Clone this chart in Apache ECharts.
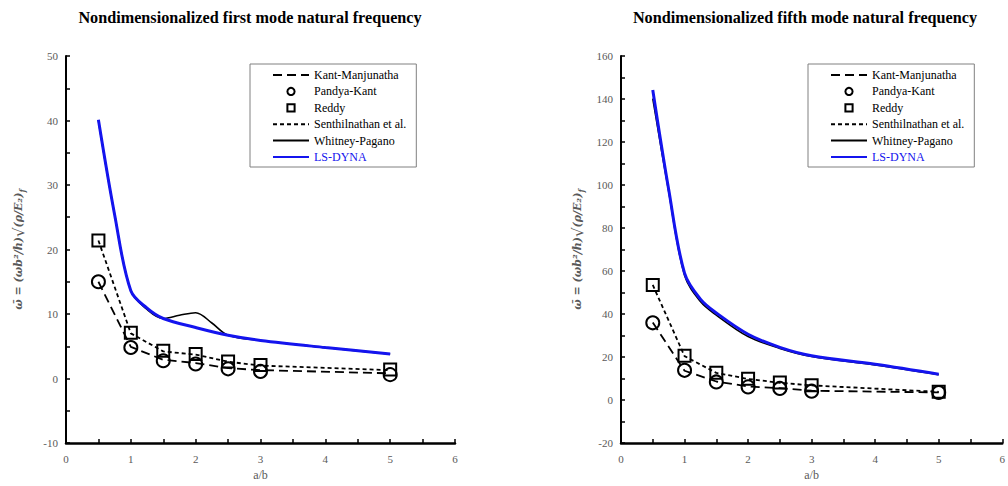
<!DOCTYPE html>
<html><head><meta charset="utf-8">
<script src="https://cdn.jsdelivr.net/npm/echarts@6/dist/echarts.min.js"></script>
<style>html,body{margin:0;padding:0;background:#fff}#c{width:1008px;height:486px}</style>
</head><body><div id="c"></div>
<script>
// ---- data ----
const xPts = [0.5, 1, 1.5, 2, 2.5, 3, 5];
const xCurve = [0.5, 0.75, 1, 1.25, 1.5, 2, 2.5, 3, 4, 5];
const xWhitney1 = [0.5, 0.75, 1, 1.25, 1.5, 1.75, 2, 2.25, 2.5, 3, 4, 5];
const xTicks = [0, 1, 2, 3, 4, 5, 6];
const yTicks1 = [-10, 0, 10, 20, 30, 40, 50];
const yTicks5 = [-20, 0, 20, 40, 60, 80, 100, 120, 140, 160];

const m1Kant    = [15.0, 4.9, 2.9, 2.4, 1.6, 1.3, 0.8];
const m1Pandya  = [15.0, 4.8, 2.75, 2.25, 1.5, 1.1, 0.6];
const m1Reddy   = [21.4, 7.1, 4.3, 3.8, 2.65, 2.1, 1.4];
const m1Senth   = [21.4, 7.0, 4.2, 3.7, 2.6, 2.0, 1.3];
const m1Whitney = [40.0, 25.4, 13.6, 10.7, 9.3, 9.8, 10.2, 8.6, 6.7, 5.9, 4.8, 3.8];
const m1LsDyna  = [40.1, 25.4, 13.6, 10.9, 9.3, 7.9, 6.7, 5.9, 4.8, 3.8];

const m5Kant    = [36.0, 13.6, 8.6, 6.3, 5.5, 4.3, 3.5];
const m5Pandya  = [35.9, 13.8, 8.4, 6.1, 5.4, 4.1, 3.5];
const m5Reddy   = [53.5, 20.6, 12.7, 9.9, 8.1, 6.9, 3.8];
const m5Senth   = [53.5, 20.4, 12.6, 9.8, 8.0, 6.8, 3.8];
const m5Whitney = [140.2, 97.0, 58.0, 45.8, 39.5, 29.5, 24.0, 20.2, 16.3, 11.8];
const m5LsDyna  = [144.2, 98.0, 59.0, 46.9, 40.5, 30.6, 24.5, 20.6, 16.6, 12.0];

const titles = ['Nondimensionalized first mode natural frequency', 'Nondimensionalized fifth mode natural frequency'];
const names = ['Kant-Manjunatha', 'Pandya-Kant', 'Reddy', 'Senthilnathan et al.', 'Whitney-Pagano', 'LS-DYNA'];

// ---- chart ----
const pair = (xs, ys) => xs.map((x, i) => [x, ys[i]]);
const BLUE = '#1414ee';
const SERIF = '"Liberation Serif", "Times New Roman", serif';
const MATH = '"DejaVu Serif", serif';
const labelColor = '#595959';

function seriesFor(gi, kant, pandya, reddy, senth, wx, whit, lx, lsd) {
  const base = { xAxisIndex: gi, yAxisIndex: gi, animation: false, silent: true };
  return [
    Object.assign({}, base, { name: names[0], type: 'line', symbol: 'none', data: pair(xPts, kant),
      itemStyle: { color: 'transparent', borderWidth: 0 },
      lineStyle: { color: '#000', width: 1.8, type: [9, 5] }, z: 2 }),
    Object.assign({}, base, { name: names[1], type: 'line', symbol: 'circle', symbolSize: 13, data: pair(xPts, pandya),
      itemStyle: { color: 'rgba(0,0,0,0)', borderColor: '#000', borderWidth: 2 },
      lineStyle: { width: 0, color: '#000' }, z: 4 }),
    Object.assign({}, base, { name: names[2], type: 'line', symbol: 'rect', symbolSize: 12, data: pair(xPts, reddy),
      itemStyle: { color: 'rgba(0,0,0,0)', borderColor: '#000', borderWidth: 2 },
      lineStyle: { width: 0, color: '#000' }, z: 4 }),
    Object.assign({}, base, { name: names[3], type: 'line', symbol: 'none', data: pair(xPts, senth),
      itemStyle: { color: 'transparent', borderWidth: 0 },
      lineStyle: { color: '#000', width: 1.8, type: [4, 3] }, z: 2 }),
    Object.assign({}, base, { name: names[4], type: 'line', symbol: 'none', smooth: 0.35, data: pair(wx, whit),
      itemStyle: { color: 'transparent', borderWidth: 0 },
      lineStyle: { color: '#000', width: 1.6 }, z: 2 }),
    Object.assign({}, base, { name: names[5], type: 'line', symbol: 'none', smooth: 0.35, data: pair(lx, lsd),
      itemStyle: { color: 'transparent', borderWidth: 0 },
      lineStyle: { color: BLUE, width: 3 }, z: 3 })
  ];
}

function legendFor(left) {
  return {
    orient: 'vertical', left: left, top: 64, selectedMode: false,
    borderColor: '#808080', borderWidth: 1, padding: [5, 10, 4, 22],
    itemWidth: 36, itemHeight: 9, itemGap: 4.4,
    textStyle: { fontFamily: SERIF, fontSize: 12, color: '#000', lineHeight: 12 },
    data: names.map((n, i) => {
      const d = { name: n };
      if (i === 0 || i === 3 || i === 4 || i === 5) d.itemStyle = { opacity: 0 };
      if (i === 5) d.textStyle = { color: BLUE };
      return d;
    })
  };
}

function xAxisFor(gi) {
  return {
    gridIndex: gi, type: 'value', min: xTicks[0], max: xTicks[xTicks.length - 1], interval: xTicks[1] - xTicks[0],
    name: 'a/b', nameLocation: 'middle', nameGap: 26,
    nameTextStyle: { fontFamily: SERIF, fontSize: 12, color: labelColor },
    axisLine: { show: true, onZero: false, lineStyle: { color: '#000', width: 2.5 } },
    axisTick: { show: true, inside: true, length: 4, lineStyle: { color: '#000', width: 1.5 } },
    minorTick: { show: true, splitNumber: 2, length: 4, lineStyle: { color: '#000', width: 1.5 } },
    splitLine: { show: false },
    axisLabel: { fontFamily: SERIF, fontSize: 11, color: labelColor, margin: 10 }
  };
}

function yAxisFor(gi, ticks) {
  return {
    gridIndex: gi, type: 'value', min: ticks[0], max: ticks[ticks.length - 1], interval: ticks[1] - ticks[0],
    name: '{t|ω̄ = (ωb²/h)}{q|√}{t|(ρ/E₂)}{s|f}', nameLocation: 'middle', nameGap: gi === 0 ? 40 : 36,
    nameTextStyle: {
      color: labelColor,
      rich: {
        t: { fontFamily: MATH, fontStyle: 'italic', fontWeight: 'bold', fontSize: 11, color: labelColor },
        q: { fontFamily: MATH, fontSize: 15, color: labelColor },
        s: { fontFamily: MATH, fontStyle: 'italic', fontWeight: 'bold', fontSize: 8, color: labelColor, verticalAlign: 'bottom', padding: [6, 0, 0, 0] }
      }
    },
    axisLine: { show: true, onZero: false, lineStyle: { color: '#000', width: 2 } },
    axisTick: { show: true, inside: true, length: 4, lineStyle: { color: '#000', width: 1.5 } },
    minorTick: { show: true, splitNumber: 2, length: 4, lineStyle: { color: '#000', width: 1.5 } },
    splitLine: { show: false },
    axisLabel: { fontFamily: SERIF, fontSize: 11, color: labelColor, margin: 8 }
  };
}

const chart = echarts.init(document.getElementById('c'), null, { renderer: 'svg' });
chart.setOption({
  animation: false,
  backgroundColor: '#fff',
  title: [
    { text: titles[0], left: 245, top: 5, textAlign: 'center', textStyle: { fontFamily: SERIF, fontWeight: 'bold', fontSize: 16.2, color: '#000' } },
    { text: titles[1], left: 800, top: 5, textAlign: 'center', textStyle: { fontFamily: SERIF, fontWeight: 'bold', fontSize: 16.2, color: '#000' } }
  ],
  legend: [legendFor(250), legendFor(808)],
  grid: [
    { left: 66, top: 56, width: 389, height: 392 },
    { left: 621, top: 56, width: 389, height: 392 }
  ],
  xAxis: [xAxisFor(0), xAxisFor(1)],
  yAxis: [yAxisFor(0, yTicks1), yAxisFor(1, yTicks5)],
  series: [].concat(
    seriesFor(0, m1Kant, m1Pandya, m1Reddy, m1Senth, xWhitney1, m1Whitney, xCurve, m1LsDyna),
    seriesFor(1, m5Kant, m5Pandya, m5Reddy, m5Senth, xCurve, m5Whitney, xCurve, m5LsDyna)
  )
});
</script>
</body></html>
